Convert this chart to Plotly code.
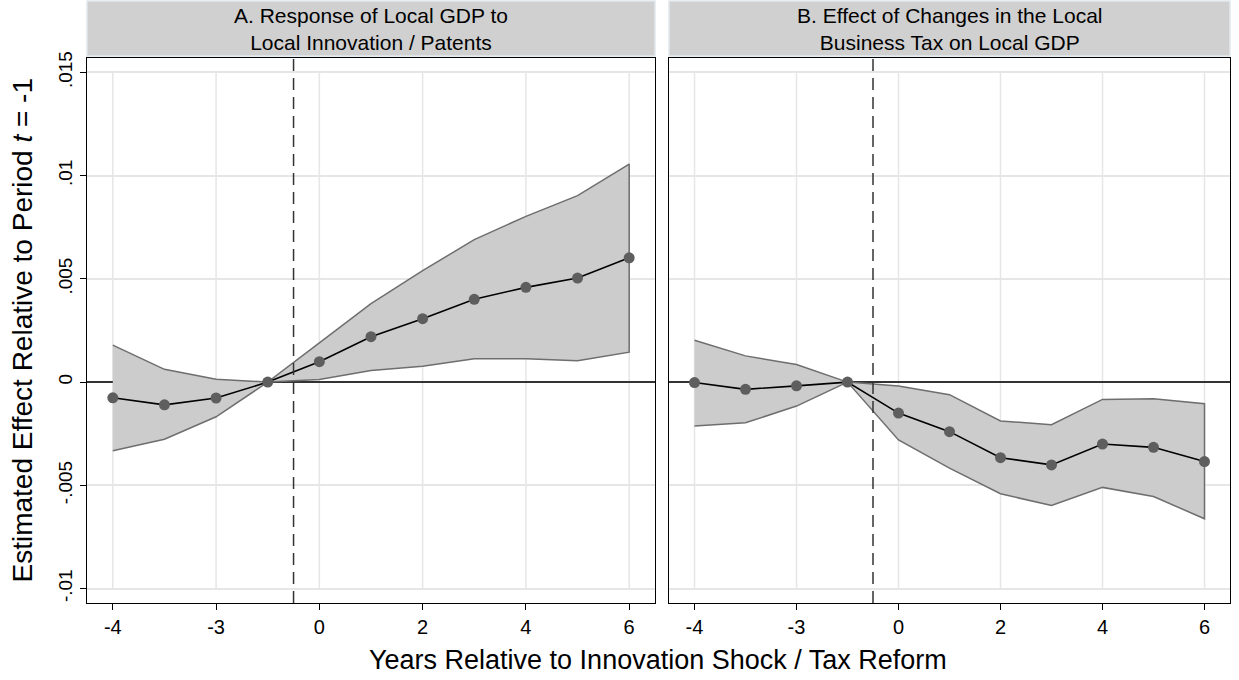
import plotly.graph_objects as go

years = [-4, -3, -2, -1, 0, 1, 2, 3, 4, 5, 6]

# Panel A: Response of Local GDP to Local Innovation / Patents
a_est = [-0.00076, -0.00110, -0.00077, 0.0, 0.00099, 0.00220, 0.00307, 0.00401, 0.00459, 0.00504, 0.00602]
a_hi = [0.00179, 0.00062, 0.00014, 0.0, 0.00190, 0.00380, 0.00540, 0.00690, 0.00803, 0.00903, 0.01056]
a_lo = [-0.00332, -0.00277, -0.00168, 0.0, 0.00013, 0.00056, 0.00077, 0.00113, 0.00113, 0.00103, 0.00145]

# Panel B: Effect of Changes in the Local Business Tax on Local GDP
b_est = [-0.00002, -0.00035, -0.00018, 0.0, -0.00150, -0.00240, -0.00366, -0.00401, -0.00300, -0.00316, -0.00385]
b_hi = [0.00203, 0.00127, 0.00085, 0.0, -0.00019, -0.00061, -0.00188, -0.00206, -0.00084, -0.00080, -0.00105]
b_lo = [-0.00213, -0.00197, -0.00116, 0.0, -0.00280, -0.00417, -0.00541, -0.00598, -0.00510, -0.00554, -0.00662]

titles = ["A. Response of Local GDP to<br>Local Innovation / Patents",
          "B. Effect of Changes in the Local<br>Business Tax on Local GDP"]

x_tickvals = [-4, -2, 0, 2, 4, 6]
x_ticktext = ["-4", "-3", "0", "2", "4", "6"]
y_tickvals = [0.015, 0.01, 0.005, 0, -0.005, -0.01]
y_ticktext = [".015", ".01", ".005", "0", "-.005", "-.01"]
event_line = -0.5

FONT = "Liberation Sans, Arial, sans-serif"
BAND_FILL = "#cccccc"
BAND_EDGE = "#6e6e6e"
MARK = "#5e5e5e"
GRID = "#e6e6e6"

fig = go.Figure()

panels = [(a_est, a_hi, a_lo, "x", "y"), (b_est, b_hi, b_lo, "x2", "y2")]
for est, hi, lo, xa, ya in panels:
    fig.add_trace(go.Scatter(
        x=years + years[::-1], y=hi + lo[::-1],
        fill="toself", fillcolor=BAND_FILL, mode="lines",
        line=dict(color=BAND_EDGE, width=1.5),
        xaxis=xa, yaxis=ya, showlegend=False, hoverinfo="skip"))
    fig.add_trace(go.Scatter(
        x=years, y=est, mode="lines+markers",
        line=dict(color="black", width=1.6),
        marker=dict(color=MARK, size=11),
        xaxis=xa, yaxis=ya, showlegend=False))

W, H = 1239, 680
ML, MR, MT, MB = 87, 9, 58, 77
w_total = W - ML - MR
ph = H - MT - MB
dom_a = [0, (655 - ML) / w_total]
dom_b = [(669 - ML) / w_total, 1]

xcommon = dict(range=[-4.5, 6.5], tickvals=x_tickvals, ticktext=x_ticktext,
               showgrid=False,
               zeroline=False, showline=True, linecolor="black", linewidth=1.3,
               mirror=True, ticks="outside", ticklen=6, tickcolor="black",
               tickfont=dict(family=FONT, size=20, color="black"))
ycommon = dict(range=[-0.0107, 0.0157], tickvals=y_tickvals, ticktext=y_ticktext,
               showgrid=True, gridcolor=GRID, gridwidth=1.5,
               zeroline=True, zerolinecolor="#333333", zerolinewidth=1.6,
               showline=True, linecolor="black", linewidth=1.3, mirror=True,
               tickfont=dict(family=FONT, size=19, color="black"))

fig.update_layout(
    width=W, height=H,
    margin=dict(l=ML, r=MR, t=MT, b=MB),
    paper_bgcolor="white", plot_bgcolor="white",
    font=dict(family=FONT, color="black"),
    xaxis=dict(domain=dom_a, anchor="y", **xcommon),
    xaxis2=dict(domain=dom_b, anchor="y2", **xcommon),
    yaxis=dict(anchor="x", ticks="outside", ticklen=6, tickcolor="black",
               tickangle=-90, **ycommon),
    yaxis2=dict(anchor="x2", matches="y", showticklabels=False, ticks="", **ycommon),
)

# vertical grid lines spanning only the labelled y range (Stata style)
for xa, ya in [("x", "y"), ("x2", "y2")]:
    for tv in x_tickvals:
        fig.add_shape(type="line", xref=xa, yref=ya,
                      x0=tv, x1=tv, y0=min(y_tickvals), y1=max(y_tickvals),
                      line=dict(color=GRID, width=1.5), layer="below")

# y-axis title
fig.add_annotation(text="Estimated Effect Relative to Period <i>t</i> = -1",
                   xref="paper", yref="paper", x=-(ML - 22) / w_total, y=0.5,
                   xanchor="center", yanchor="middle", textangle=-90, showarrow=False,
                   font=dict(family=FONT, size=28, color="black"))

# x-axis common title
fig.add_annotation(text="Years Relative to Innovation Shock / Tax Reform",
                   xref="paper", yref="paper", x=(658 - ML) / w_total, y=-(660 - (H - MB)) / ph,
                   xanchor="center", yanchor="middle", showarrow=False,
                   font=dict(family=FONT, size=27, color="black"))

for dom, t in zip([dom_a, dom_b], titles):
    fig.add_shape(type="rect", xref="paper", yref="paper",
                  x0=dom[0], x1=dom[1], y0=1 + 2 / ph, y1=1 + 57 / ph,
                  fillcolor="#d0d0d0", line=dict(color="#dfe8ec", width=1.5),
                  layer="above")
    fig.add_annotation(text=t, xref="paper", yref="paper",
                       x=(dom[0] + dom[1]) / 2, y=1 + (MT - 29) / ph,
                       xanchor="center", yanchor="middle", showarrow=False,
                       font=dict(family=FONT, size=21, color="black"))

for xa, ya in [("x", "y"), ("x2", "y2")]:
    fig.add_shape(type="line", xref=xa, yref=ya + " domain",
                  x0=event_line, x1=event_line, y0=0, y1=1,
                  line=dict(color="#333333", width=1.5, dash="12px,7px"),
                  layer="above")

fig.write_html("out.html", config={"displayModeBar": False},
               post_script="document.body.style.margin='0px';")
